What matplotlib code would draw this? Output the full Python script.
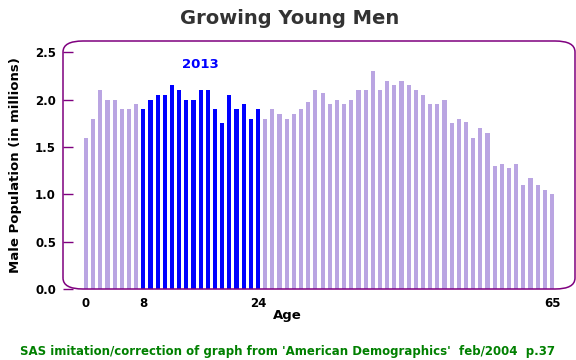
import matplotlib
matplotlib.use("Agg")
import matplotlib.pyplot as plt
from matplotlib.path import Path
from matplotlib.patches import PathPatch
import numpy as np

ages = list(range(0, 66))
population = [1.60, 1.80, 2.10, 2.00, 2.00, 1.90, 1.90, 1.95, 1.90, 2.00,
              2.05, 2.05, 2.15, 2.10, 2.00, 2.00, 2.10, 2.10, 1.90, 1.75,
              2.05, 1.90, 1.95, 1.80, 1.90, 1.80, 1.90, 1.85, 1.80, 1.85,
              1.90, 1.98, 2.10, 2.07, 1.95, 2.00, 1.95, 2.00, 2.10, 2.10,
              2.30, 2.10, 2.20, 2.15, 2.20, 2.15, 2.10, 2.05, 1.95, 1.95,
              2.00, 1.75, 1.80, 1.76, 1.60, 1.70, 1.65, 1.30, 1.32, 1.28,
              1.32, 1.10, 1.17, 1.10, 1.05, 1.00]
highlight_start, highlight_end = 8, 24
xtick_values = [0, 8, 24, 65]
ytick_values = [0.0, 0.5, 1.0, 1.5, 2.0, 2.5]

lavender = "#BAA5E2"
blue = "#0000FF"
purple = "#7F007F"

fig = plt.figure(figsize=(5.76, 3.6), dpi=100)
ax = fig.add_axes([63/576, 71/360, 512/576, 248/360])

colors = [blue if highlight_start <= a <= highlight_end else lavender for a in ages]
ax.bar(ages, population, width=0.58, color=colors, linewidth=0, zorder=2)

ax.set_xlim(-3.2, 68.2)
ax.set_ylim(0, 2.62)
for s in ax.spines.values():
    s.set_visible(False)

ax.set_yticks(ytick_values)
ax.set_yticklabels([f"{v:.1f}" for v in ytick_values], fontweight="bold", fontsize=8.5)
ax.tick_params(axis="y", direction="in", length=7, width=1, color=purple, pad=5)
ax.set_xticks(xtick_values)
ax.set_xticklabels([str(v) for v in xtick_values], fontweight="bold", fontsize=8.5)
ax.tick_params(axis="x", length=0, pad=6)

# rounded frame in axes fraction
rx, ry = 20/512, 11/248
verts = [
    (0, ry), (0, 1 - ry),
    (0, 1), (rx, 1),
    (1 - rx, 1),
    (1, 1), (1, 1 - ry),
    (1, ry),
    (1, 0), (1 - rx, 0),
    (rx, 0),
    (0, 0), (0, ry),
]
codes = [Path.MOVETO, Path.LINETO,
         Path.CURVE3, Path.CURVE3,
         Path.LINETO,
         Path.CURVE3, Path.CURVE3,
         Path.LINETO,
         Path.CURVE3, Path.CURVE3,
         Path.LINETO,
         Path.CURVE3, Path.CURVE3]
frame = PathPatch(Path(verts, codes), transform=ax.transAxes, fill=False,
                  edgecolor=purple, linewidth=1.1, clip_on=False, zorder=3)
ax.add_patch(frame)

ax.text(16, 2.37, "2013", color=blue, fontweight="bold", fontsize=9.5,
        ha="center", va="center")

fig.text(0.503, 1 - 18/360, "Growing Young Men", color="#333333",
         fontweight="bold", fontsize=14, ha="center", va="center")
fig.text(16/576, 1 - 165/360, "Male Population (in millions)", rotation=90,
         fontweight="bold", fontsize=9.5, ha="center", va="center")
fig.text(287/576, 1 - 316/360, "Age", fontweight="bold", fontsize=9.5,
         ha="center", va="center")
fig.text(287/576, 1 - 352/360,
         "SAS imitation/correction of graph from 'American Demographics'  feb/2004  p.37",
         color="#008000", fontweight="bold", fontsize=8.5, ha="center", va="center")

fig.savefig("out.png", dpi=100)
